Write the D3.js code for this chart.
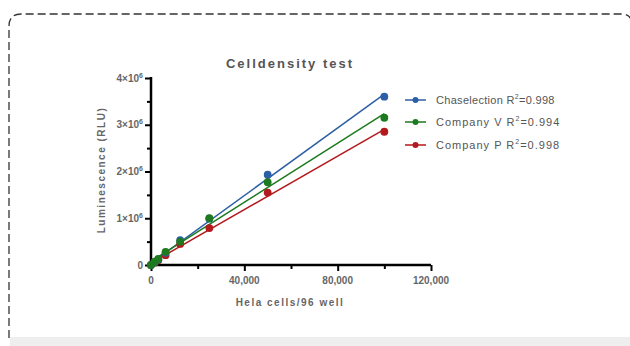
<!DOCTYPE html>
<html>
<head>
<meta charset="utf-8">
<script src="https://cdn.jsdelivr.net/npm/d3@7"></script>
<style>
  body { margin: 0; background: #fff; }
  text { font-family: "Liberation Sans", Arial, sans-serif; fill: #555; }
  .tick-label { font-size: 10px; font-weight: bold; fill: #666; }
  .axis-title { font-size: 10px; font-weight: bold; fill: #666; letter-spacing: 1.5px; }
</style>
</head>
<body>
<div id="chart"></div>
<script>
// cells per well
var cellCounts = [0, 1563, 3125, 6250, 12500, 25000, 50000, 100000];
// luminescence (RLU) per series
var chaselection = [0, 60000, 120000, 260000, 530000, 990000, 1930000, 3600000];
var companyV     = [0, 70000, 130000, 280000, 500000, 1000000, 1770000, 3150000];
var companyP     = [0, 50000, 100000, 210000, 450000, 790000, 1550000, 2850000];
var seriesNames = ["Chaselection", "Company V", "Company P"];
var r2Values = ["0.998", "0.994", "0.998"];
var xTicks = [0, 40000, 80000, 120000];
var yTicks = [0, 1e6, 2e6, 3e6, 4e6];
var yTickLabels = ["0", "1×10", "2×10", "3×10", "4×10"];

var colors = ["#2d5fa6", "#1d7a1f", "#b3191d"];
var seriesData = [chaselection, companyV, companyP];

var width = 630, height = 346;
var svg = d3.select("#chart").append("svg")
    .attr("width", width)
    .attr("height", height);

// frame: grey strip at bottom and dashed rounded border
svg.append("rect")
    .attr("x", 10).attr("y", 337)
    .attr("width", 620).attr("height", 9)
    .attr("fill", "#eeeeee");

svg.append("path")
    .attr("d", "M9,338 L9,26 Q9,14 21,14 L622,14 Q630,14 632,22")
    .attr("fill", "none")
    .attr("stroke", "#333")
    .attr("stroke-width", 1.3)
    .attr("stroke-dasharray", "8,4");

var x = d3.scaleLinear().domain([0, 120000]).range([151, 431]);
var y = d3.scaleLinear().domain([0, 4e6]).range([265, 78]);

// minor ticks
var xMinor = d3.axisBottom(x).tickValues(d3.range(0, 120001, 20000)).tickSize(5).tickFormat("");
var yMinor = d3.axisLeft(y).tickValues(d3.range(0, 4e6 + 1, 5e5)).tickSize(4).tickFormat("");

var gx = svg.append("g").attr("transform", "translate(0,265)").call(xMinor);
var gy = svg.append("g").attr("transform", "translate(151,0)").call(yMinor);
[gx, gy].forEach(function(g){
  g.select(".domain").attr("stroke", "#000").attr("stroke-width", 2.5);
  g.selectAll(".tick line").attr("stroke", "#000").attr("stroke-width", 2);
});
// major ticks a bit longer
gx.selectAll(".tick line").attr("y2", function(d){ return d % 40000 === 0 ? 6 : 4; });
gy.selectAll(".tick line").attr("x2", function(d){ return d % 1e6 === 0 ? -6 : -4; });
gx.select(".domain").attr("d", "M150,0H431");
gy.select(".domain").attr("d", "M0,266V77");

// x tick labels
svg.selectAll(".xlab").data(xTicks).enter().append("text")
    .attr("class", "tick-label")
    .attr("x", function(d){ return x(d); })
    .attr("y", 284)
    .attr("text-anchor", "middle")
    .text(function(d){ return d3.format(",")(d); });

// y tick labels with superscript 6
var yl = svg.selectAll(".ylab").data(yTicks).enter().append("text")
    .attr("class", "tick-label")
    .attr("x", 143)
    .attr("y", function(d){ return y(d) + 3.5; })
    .attr("text-anchor", "end");
yl.append("tspan").text(function(d, i){ return yTickLabels[i]; });
yl.filter(function(d){ return d > 0; }).append("tspan")
    .attr("dy", -4).attr("font-size", "7px").text("6");

// titles
svg.append("text")
    .attr("x", 290).attr("y", 68)
    .attr("text-anchor", "middle")
    .attr("font-size", "13px").attr("font-weight", "bold")
    .attr("letter-spacing", "2px")
    .attr("fill", "#666")
    .text("Celldensity test");

svg.append("text")
    .attr("class", "axis-title")
    .attr("x", 290).attr("y", 306)
    .attr("text-anchor", "middle")
    .text("Hela cells/96 well");

svg.append("text")
    .attr("class", "axis-title")
    .attr("transform", "translate(105,170) rotate(-90)")
    .attr("text-anchor", "middle")
    .text("Luminescence (RLU)");

// linear fits
function fit(xs, ys){
  var mx = d3.mean(xs), my = d3.mean(ys);
  var sxy = 0, sxx = 0;
  xs.forEach(function(v, i){ sxy += (v - mx) * (ys[i] - my); sxx += (v - mx) * (v - mx); });
  var b = sxy / sxx;
  return { slope: b, intercept: my - b * mx };
}

var line = d3.line().x(function(d){ return x(d[0]); }).y(function(d){ return y(d[1]); });

seriesData.forEach(function(vals, s){
  var f = fit(cellCounts, vals);
  var x0 = 0, x1 = d3.max(cellCounts);
  svg.append("path")
      .attr("d", line([[x0, Math.max(0, f.intercept)], [x1, f.intercept + f.slope * x1]]))
      .attr("stroke", colors[s]).attr("stroke-width", 1.5).attr("fill", "none");
});

// points (drawn after lines): red first, then blue, green on top
[2, 0, 1].forEach(function(s){
  svg.selectAll(".pt" + s).data(seriesData[s]).enter().append("circle")
      .attr("cx", function(d, i){ return x(cellCounts[i]); })
      .attr("cy", function(d){ return y(d); })
      .attr("r", 3.9)
      .attr("fill", colors[s]);
});

// legend
var legend = svg.selectAll(".legend").data(seriesNames).enter().append("g")
    .attr("transform", function(d, i){ return "translate(405," + [100, 122, 145][i] + ")"; });
legend.append("line")
    .attr("x1", 0).attr("x2", 21).attr("y1", 0).attr("y2", 0)
    .attr("stroke", function(d, i){ return colors[i]; }).attr("stroke-width", 1.5);
legend.append("circle")
    .attr("cx", 10.5).attr("cy", 0).attr("r", 3)
    .attr("fill", function(d, i){ return colors[i]; });
var lt = legend.append("text")
    .attr("x", 31).attr("y", 4)
    .attr("font-size", "11px")
    .attr("letter-spacing", function(d, i){ return i === 0 ? "0.3px" : "1px"; })
    .attr("fill", "#666");
lt.append("tspan").text(function(d){ return d + " R"; });
lt.append("tspan").attr("dy", -5).attr("font-size", "7px").text("2");
lt.append("tspan").attr("dy", 5).text(function(d, i){ return "=" + r2Values[i]; });
</script>
</body>
</html>
